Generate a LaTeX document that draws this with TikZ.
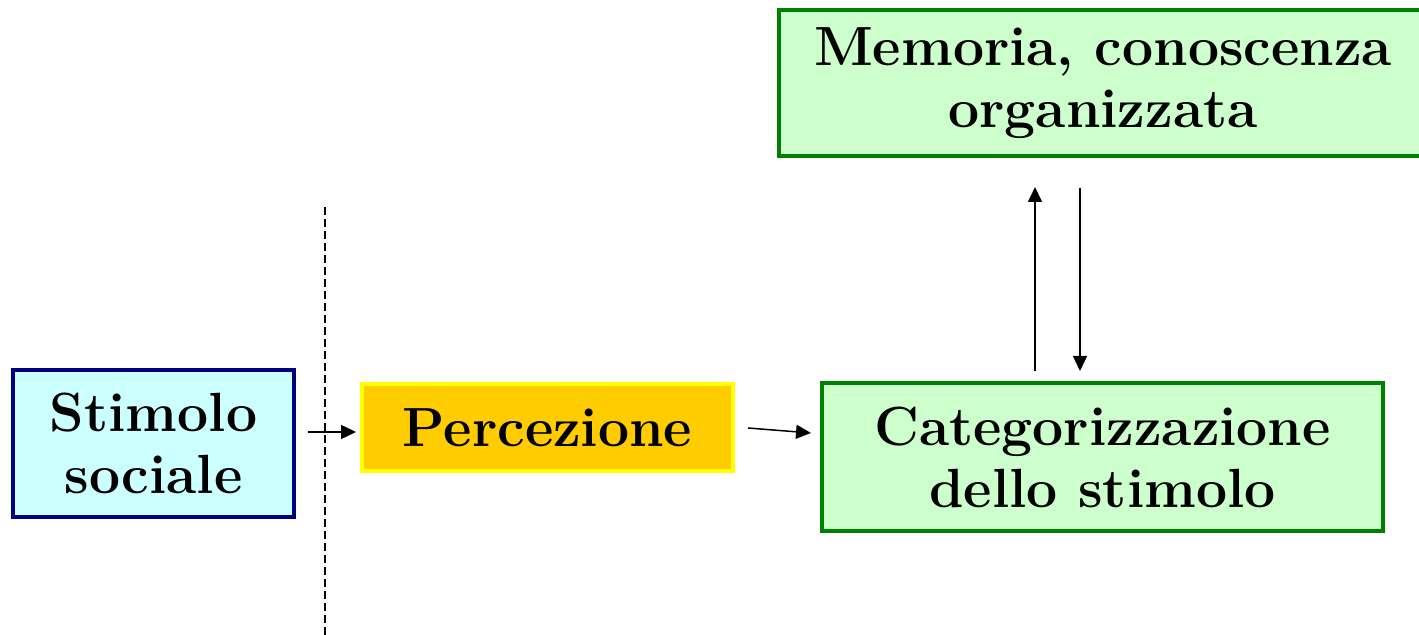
\documentclass[tikz,border=0pt]{standalone}
\usetikzlibrary{arrows.meta}
\definecolor{navyb}{HTML}{000080}
\definecolor{cyanf}{HTML}{CCFFFF}
\definecolor{yelb}{HTML}{FFFF00}
\definecolor{goldf}{HTML}{FFCC00}
\definecolor{greenb}{HTML}{008000}
\definecolor{greenf}{HTML}{CCFFCC}
\tikzset{
  box/.style={rectangle, line width=2.2pt, inner sep=0pt, align=center,
    font=\fontsize{27.6}{31}\selectfont\bfseries},
  arr/.style={line width=0.75pt, -{Triangle[length=7.5pt,width=7pt]}},
  divider/.style={line width=0.7pt, dash pattern=on 4pt off 2pt}
}
\begin{document}
\begin{tikzpicture}[x=0.5pt,y=-0.5pt]
\useasboundingbox (0,0) rectangle (1419,635);
\clip (0,0) rectangle (1419,635);
\node[box, draw=navyb, fill=cyanf, minimum width=140.3pt, minimum height=73.3pt] (s) at (153.5,443.5) {Stimolo\\sociale};
\node[box, draw=yelb, fill=goldf, minimum width=185.3pt, minimum height=43.3pt] (p) at (547.5,427.5) {Percezione};
\node[box, draw=greenb, fill=greenf, minimum width=280.3pt, minimum height=73.8pt] (c) at (1102.5,457) {Categorizzazione\\dello stimolo};
\node[box, draw=greenb, fill=greenf, minimum width=323.8pt, minimum height=72.8pt] (m) at (1103,83) {Memoria, conoscenza\\organizzata};
\coordinate (dtop) at (325,207);
\coordinate (dbot) at (325,635);
\draw[divider] (dtop) -- (dbot);
\coordinate (a1s) at (308,432);
\coordinate (a1e) at (356,432);
\draw[arr] (a1s) -- (a1e);
\coordinate (a2s) at (748,428);
\coordinate (a2e) at (811,433);
\draw[arr] (a2s) -- (a2e);
\coordinate (ups) at (1035,371);
\coordinate (upe) at (1035,187);
\draw[arr] (ups) -- (upe);
\coordinate (dns) at (1080,188);
\coordinate (dne) at (1080,371);
\draw[arr] (dns) -- (dne);
\end{tikzpicture}
\end{document}
